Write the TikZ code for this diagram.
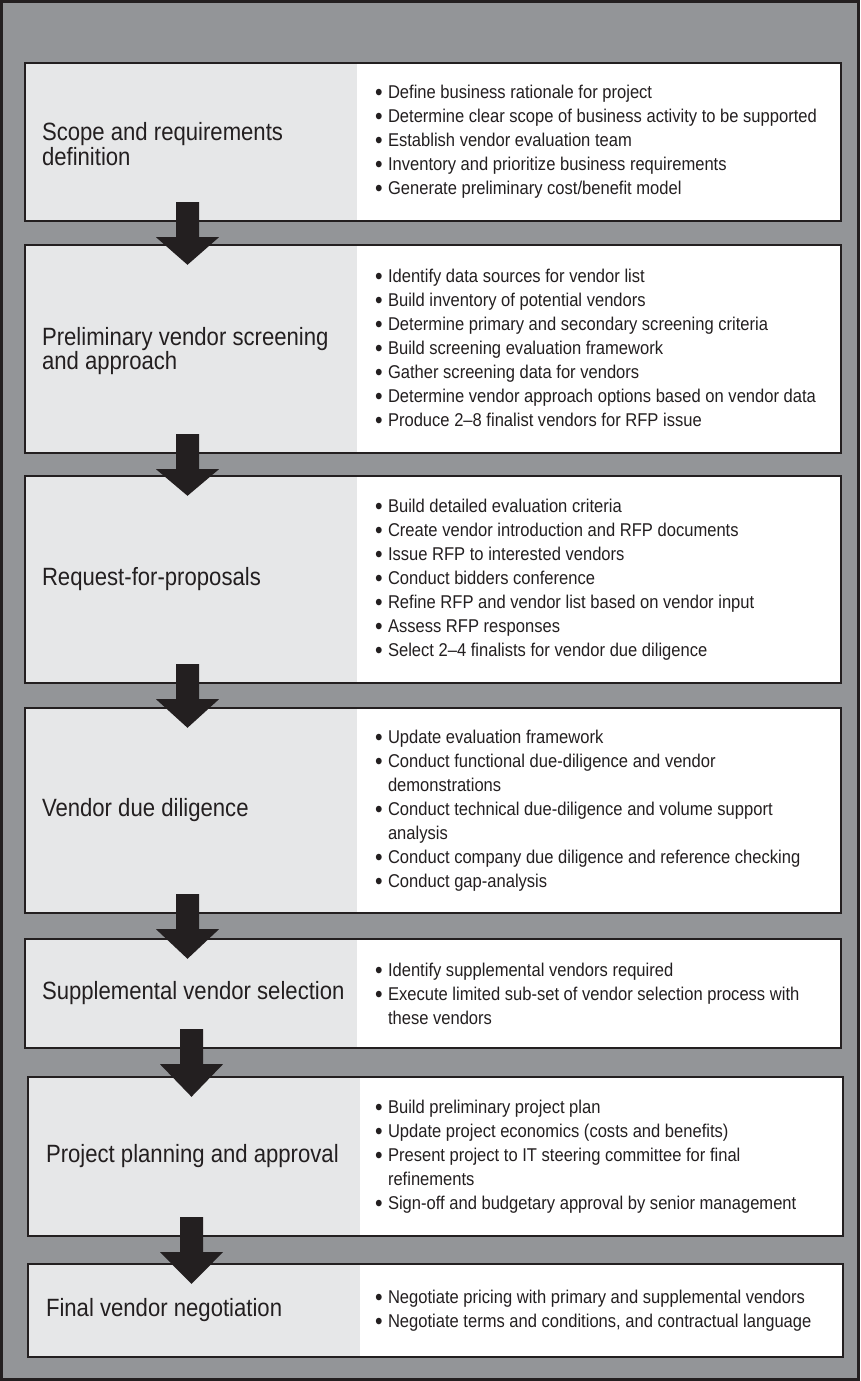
\documentclass[tikz,border=0pt]{standalone}
\usepackage{fontspec}
\setmainfont{Liberation Sans}[FakeStretch=0.92]
\newfontfamily\stagefont{Liberation Sans}[FakeStretch=0.885]
\newfontfamily\itemfont{Liberation Sans}[FakeStretch=0.895]
\usetikzlibrary{calc,fit}

\definecolor{ink}{HTML}{231F20}
\definecolor{frame}{HTML}{939598}
\definecolor{panel}{HTML}{E6E7E8}

% bullet with hanging indent for the activity lists
\newcommand{\bul}{\makebox[13pt][l]{\raisebox{-2.2pt}{\scalebox{1.3}{\textbullet}}}}
\newcommand{\cont}{\hspace*{13pt}}

% block arrow from one stage down into the next
\newcommand{\flowarrow}[3]{%
  \fill[ink] ($(#1 |- #2.south)+(-11.5,-20)$) -- ($(#1 |- #2.south)+(11.5,-20)$)
    -- ($(#1 |- #2.south)+(11.5,15)$) -- ($(#1 |- #2.south)+(31.5,15)$)
    -- ($(#1 |- #3.north)+(0,21)$)
    -- ($(#1 |- #2.south)+(-31.5,15)$) -- ($(#1 |- #2.south)+(-11.5,15)$) -- cycle;}

\begin{document}
\begin{tikzpicture}[x=1pt,y=-1pt,
  outer/.style={draw=ink, line width=3pt, fill=frame, inner sep=0pt},
  stage/.style={draw=ink, line width=2.4pt, fill=white, inner sep=0pt,
    path picture={\fill[panel] (path picture bounding box.north west)
      rectangle ([xshift=332pt]path picture bounding box.south west);}},
  title/.style={anchor=west, align=left, inner sep=0pt, text=ink,
    font=\stagefont\fontsize{25}{24.5}\selectfont},
  items/.style={anchor=west, align=left, inner sep=0pt, text=ink,
    font=\itemfont\fontsize{18.5}{24}\selectfont}]

\useasboundingbox (0,0) rectangle (860,1381);

\node[outer, fit={(1.5,1.5) (858.5,1379.5)}] (frame) {};

% stages
\node[stage, fit={(25,63) (841,221)}] (s1) {};
\node[stage, fit={(25,245) (841,453)}] (s2) {};
\node[stage, fit={(25,476) (841,683)}] (s3) {};
\node[stage, fit={(25,708) (841,913)}] (s4) {};
\node[stage, fit={(25,939) (841,1048)}] (s5) {};
\node[stage, fit={(28,1077) (843,1236)}] (s6) {};
\node[stage, fit={(28,1264) (843,1357)}] (s7) {};

% stage names
\node[title] (t1) at ($(s1.west)+(18,2)$) {Scope and requirements\\definition};
\node[title] (t2) at ($(s2.west)+(18,2)$) {Preliminary vendor screening\\and approach};
\node[title] (t3) at ($(s3.west)+(18,0)$) {Request-for-proposals};
\node[title] (t4) at ($(s4.west)+(18,0)$) {Vendor due diligence};
\node[title] (t5) at ($(s5.west)+(18,0)$) {Supplemental vendor selection};
\node[title] (t6) at ($(s6.west)+(19,0)$) {Project planning and approval};
\node[title] (t7) at ($(s7.west)+(19,0)$) {Final vendor negotiation};

% activities
\node[items] (l1) at ($(s1.west)+(351,0)$) {%
\bul Define business rationale for project\\
\bul Determine clear scope of business activity to be supported\\
\bul Establish vendor evaluation team\\
\bul Inventory and prioritize business requirements\\
\bul Generate preliminary cost/benefit model};

\node[items] (l2) at ($(s2.west)+(351,0)$) {%
\bul Identify data sources for vendor list\\
\bul Build inventory of potential vendors\\
\bul Determine primary and secondary screening criteria\\
\bul Build screening evaluation framework\\
\bul Gather screening data for vendors\\
\bul Determine vendor approach options based on vendor data\\
\bul Produce 2–8 finalist vendors for RFP issue};

\node[items] (l3) at ($(s3.west)+(351,0)$) {%
\bul Build detailed evaluation criteria\\
\bul Create vendor introduction and RFP documents\\
\bul Issue RFP to interested vendors\\
\bul Conduct bidders conference\\
\bul Refine RFP and vendor list based on vendor input\\
\bul Assess RFP responses\\
\bul Select 2–4 finalists for vendor due diligence};

\node[items] (l4) at ($(s4.west)+(351,0)$) {%
\bul Update evaluation framework\\
\bul Conduct functional due-diligence and vendor\\
\cont demonstrations\\
\bul Conduct technical due-diligence and volume support\\
\cont analysis\\
\bul Conduct company due diligence and reference checking\\
\bul Conduct gap-analysis};

\node[items] (l5) at ($(s5.west)+(351,0)$) {%
\bul Identify supplemental vendors required\\
\bul Execute limited sub-set of vendor selection process with\\
\cont these vendors};

\node[items] (l6) at ($(s6.west)+(348,0)$) {%
\bul Build preliminary project plan\\
\bul Update project economics (costs and benefits)\\
\bul Present project to IT steering committee for final\\
\cont refinements\\
\bul Sign-off and budgetary approval by senior management};

\node[items] (l7) at ($(s7.west)+(348,0)$) {%
\bul Negotiate pricing with primary and supplemental vendors\\
\bul Negotiate terms and conditions, and contractual language};

% flow arrows
\coordinate (axA) at (187.5,0);
\coordinate (axB) at (191.5,0);
\flowarrow{axA}{s1}{s2}
\flowarrow{axA}{s2}{s3}
\flowarrow{axA}{s3}{s4}
\flowarrow{axA}{s4}{s5}
\flowarrow{axB}{s5}{s6}
\flowarrow{axB}{s6}{s7}

\end{tikzpicture}
\end{document}
